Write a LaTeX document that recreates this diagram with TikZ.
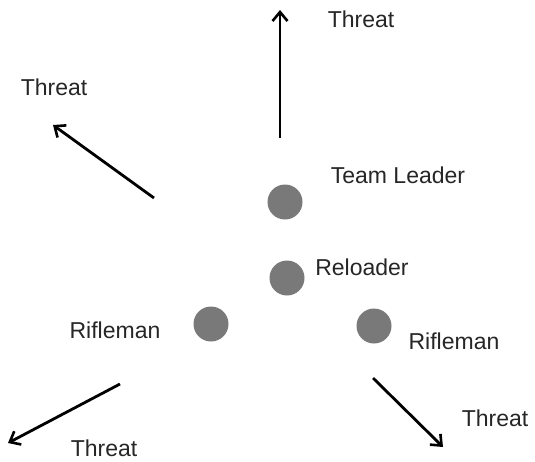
\documentclass[tikz,border=0pt]{standalone}
\usepackage{fontspec}
\setmainfont{Liberation Sans}
\usetikzlibrary{arrows.meta}
\begin{document}
\begin{tikzpicture}[x=1pt,y=-1pt,
  member/.style={circle,fill=gray!95!black,inner sep=0pt,minimum size=35pt},
  lbl/.style={font=\fontsize{23}{26}\selectfont,text=black!85,inner sep=0pt},
  threatarrow/.style={line width=2.8pt,-{Straight Barb[length=9pt,width=15pt,line width=2.6pt]}}]
\useasboundingbox (0,0) rectangle (535,461);
% members
\node[member] (tl) at (285,202) {};
\node[member] (rl) at (287,278) {};
\node[member] (rfl) at (211,324) {};
\node[member] (rfr) at (374,326) {};
% labels
\node[lbl] (ltl) at (398,175) {Team Leader};
\node[lbl] (lrl) at (362,267) {Reloader};
\node[lbl] (lrfl) at (115,330) {Rifleman};
\node[lbl] (lrfr) at (454,341) {Rifleman};
% arrow coordinates
\coordinate (a1s) at (280,138);
\coordinate (a1e) at (280,10);
\coordinate (a2s) at (154,198);
\coordinate (a2e) at (53,125);
\coordinate (a3s) at (120,384);
\coordinate (a3e) at (8,443);
\coordinate (a4s) at (373,378);
\coordinate (a4e) at (443,447);
\draw[threatarrow] (a1s) -- (a1e);
\draw[threatarrow] (a2s) -- (a2e);
\draw[threatarrow] (a3s) -- (a3e);
\draw[threatarrow] (a4s) -- (a4e);
% threat labels
\node[lbl] (t1) at (361,19) {Threat};
\node[lbl] (t2) at (54,87) {Threat};
\node[lbl] (t3) at (104,448) {Threat};
\node[lbl] (t4) at (495,418) {Threat};
\end{tikzpicture}
\end{document}
